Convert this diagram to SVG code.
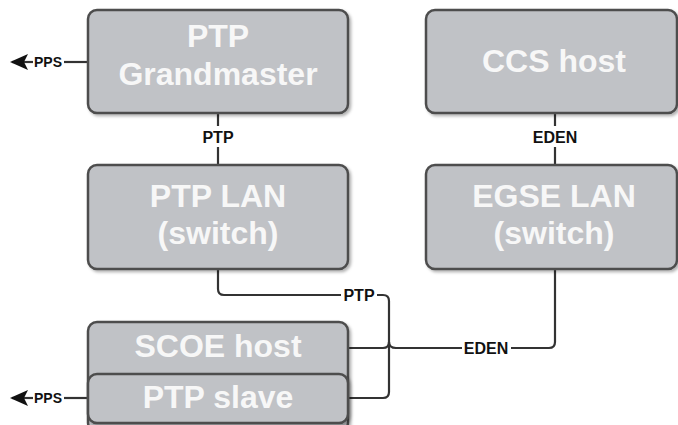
<svg xmlns="http://www.w3.org/2000/svg" width="678" height="425" viewBox="0 0 678 425">
  <defs>
    <filter id="shadow" x="-10%" y="-10%" width="120%" height="130%">
      <feDropShadow dx="2" dy="2" stdDeviation="1.5" flood-color="#000" flood-opacity="0.3"/>
    </filter>
    <marker id="arrow" viewBox="0 0 20 16" refX="18" refY="8" markerWidth="20" markerHeight="16" markerUnits="userSpaceOnUse" orient="auto">
      <path d="M20,8 L2,0 L6,8 L2,16 Z" fill="#111"/>
    </marker>
    <style>
      .box { fill: #c0c2c6; stroke: #4d4d4d; stroke-width: 2.5; filter: url(#shadow); }
      .title { font-family: "Liberation Sans", Arial, sans-serif; font-weight: bold; font-size: 32px; fill: #f7f7f7; text-anchor: middle; }
      .wire { fill: none; stroke: #333333; stroke-width: 2.2; }
      .lbl { font-family: "Liberation Sans", Arial, sans-serif; font-weight: bold; font-size: 16px; fill: #111111; text-anchor: middle; dominant-baseline: central; }
      .pps { font-family: "Liberation Sans", Arial, sans-serif; font-weight: bold; font-size: 14px; fill: #111111; text-anchor: middle; dominant-baseline: central; }
    </style>
  </defs>

  <rect width="678" height="425" fill="#ffffff"/>

  <!-- connectors -->
  <g id="connectors">
    <!-- Grandmaster -> PTP LAN -->
    <path class="wire" d="M218,113 V126 M218,147 V165"/>
    <text class="lbl" x="218" y="137">PTP</text>
    <!-- CCS host -> EGSE LAN -->
    <path class="wire" d="M555,113 V126 M555,147 V165"/>
    <text class="lbl" x="555" y="137">EDEN</text>
    <!-- PPS outputs -->
    <path class="wire" d="M88,62 H64"/>
    <path class="wire" d="M33,62 H12" marker-end="url(#arrow)"/>
    <text class="pps" x="48" y="62">PPS</text>
    <path class="wire" d="M88,398 H64"/>
    <path class="wire" d="M33,398 H12" marker-end="url(#arrow)"/>
    <text class="pps" x="48" y="398">PPS</text>
    <!-- PTP LAN -> SCOE host / PTP slave -->
    <path class="wire" d="M218,269 V289 Q218,295 224,295 H341 M377,295 H383 Q389,295 389,301 V392 Q389,398 383,398 H348"/>
    <path class="wire" d="M348,348 H383 Q389,348 389,342"/>
    <text class="lbl" x="359" y="295">PTP</text>
    <!-- EGSE LAN -> SCOE host, hopping over the PTP line -->
    <path class="wire" d="M555,269 V342 Q555,348 549,348 H511 M462,348 H396 Q389,348 389,342"/>
    <text class="lbl" x="486" y="348">EDEN</text>
  </g>

  <g id="grandmaster">
    <rect class="box" x="88" y="10" width="260" height="103" rx="9"/>
    <text class="title" x="218" y="47">PTP</text>
    <text class="title" x="218" y="85">Grandmaster</text>
  </g>

  <g id="ccs-host">
    <rect class="box" x="426" y="10" width="251" height="103" rx="9"/>
    <text class="title" x="554" y="72">CCS host</text>
  </g>

  <g id="ptp-lan">
    <rect class="box" x="88" y="165" width="260" height="104" rx="9"/>
    <text class="title" x="218" y="207">PTP LAN</text>
    <text class="title" x="218" y="244">(switch)</text>
  </g>

  <g id="egse-lan">
    <rect class="box" x="426" y="165" width="251" height="104" rx="9"/>
    <text class="title" x="554" y="207">EGSE LAN</text>
    <text class="title" x="554" y="244">(switch)</text>
  </g>

  <g id="scoe-host">
    <rect class="box" x="88" y="322" width="260" height="110" rx="9"/>
    <text class="title" x="218" y="357">SCOE host</text>
  </g>

  <g id="ptp-slave">
    <rect class="box" x="88" y="374" width="260" height="49" rx="9"/>
    <text class="title" x="218" y="408">PTP slave</text>
  </g>
</svg>
